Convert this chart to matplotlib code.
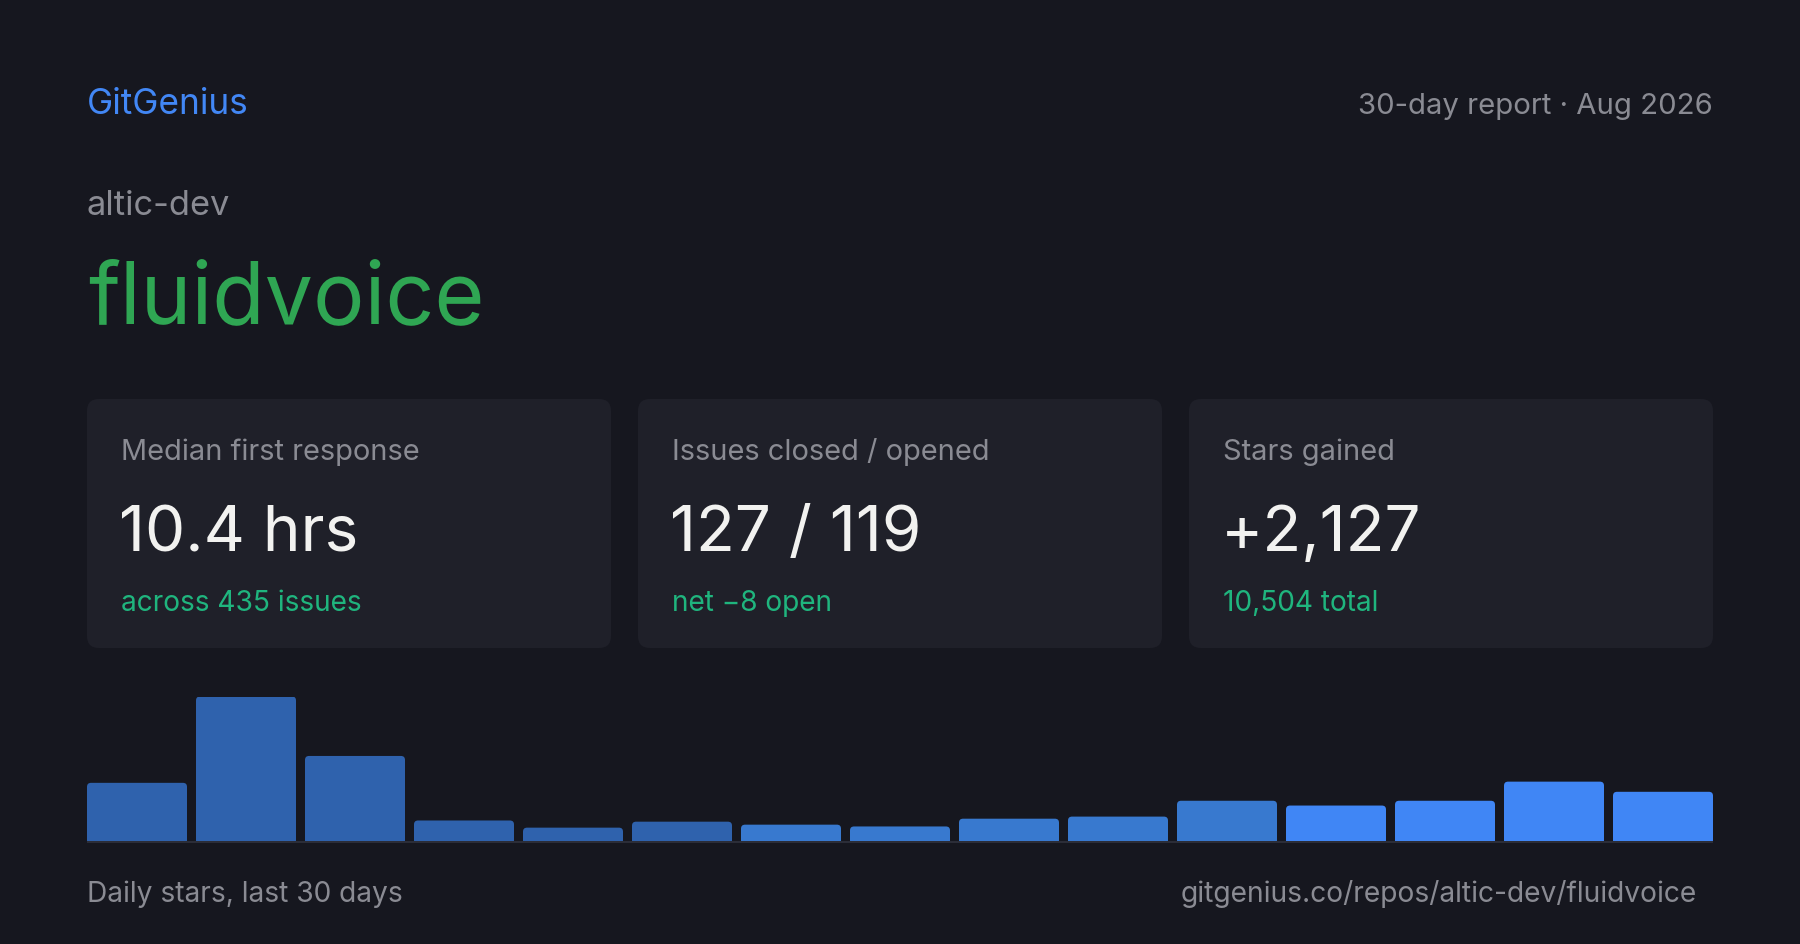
import matplotlib.pyplot as plt
from matplotlib.patches import FancyBboxPatch, Rectangle

plt.rcParams['font.family'] = ['Inter', 'DejaVu Sans']

# --- datos ---
brand = "GitGenius"
report = "30-day report \u00b7 Aug 2026"
owner = "altic-dev"
repo = "fluidvoice"
card_labels = ["Median first response", "Issues closed / opened", "Stars gained"]
card_values = ["10.4 hrs", "127 / 119", "+2,127"]
card_notes = ["across 435 issues", "net \u22128 open", "10,504 total"]
daily_stars = [193, 482, 283, 67, 43, 63, 53, 47, 73, 80, 133, 117, 133, 197, 163]
bar_colors = ["#2f62ad"] * 6 + ["#3879cf"] * 5 + ["#4086f5"] * 4
footer_left = "Daily stars, last 30 days"
footer_right = "gitgenius.co/repos/altic-dev/fluidvoice"

BG = "#16171f"
CARD = "#1f2029"
GREY = "#8a8b93"
WHITE = "#f2f2f0"
TEAL = "#1fb57e"

W, H = 1800, 945
fig = plt.figure(figsize=(W / 100, H / 100), dpi=100, facecolor=BG)

# capa de fondo en pixeles
bg = fig.add_axes([0, 0, 1, 1])
bg.set_xlim(0, W)
bg.set_ylim(H, 0)
bg.axis("off")

bg.text(87, 114, brand, color="#4287f5", fontsize=25.3, va="baseline", ha="left")
bg.text(1713, 114, report, color=GREY, fontsize=21.1, va="baseline", ha="right")
bg.text(87, 215, owner, color=GREY, fontsize=24.8, va="baseline", ha="left")
bg.text(88, 323, repo, color="#2fa653", fontsize=61.8, va="baseline", ha="left")

# tarjetas
card_w, gap = 524, 27
for i, (lab, val, note) in enumerate(zip(card_labels, card_values, card_notes)):
    x0 = 87 + i * (card_w + gap)
    bg.add_patch(FancyBboxPatch((x0, 400), card_w, 249,
                                boxstyle="round,pad=0,rounding_size=12",
                                fc=CARD, ec="none"))
    bg.text(x0 + 34, 460, lab, color=GREY, fontsize=20.9, va="baseline")
    bg.text(x0 + 32, 551, val, color=WHITE, fontsize=46, va="baseline")
    bg.text(x0 + 34, 611, note, color=TEAL, fontsize=20.2, va="baseline")

# linea base del grafico
bg.add_patch(Rectangle((87, 841.5), 1626, 2.2, fc="#2b2d38", ec="none"))

bg.text(87, 902, footer_left, color=GREY, fontsize=20.3, va="baseline", ha="left")
bg.text(1697, 902, footer_right, color=GREY, fontsize=20.3, va="baseline", ha="right")

# barras
ax_h_px = 144
ax = fig.add_axes([87 / W, 1 - 841.5 / H, 1626 / W, ax_h_px / H])
ax.set_facecolor("none")
bw = 100 / 109
x = list(range(len(daily_stars)))
bars = ax.bar(x, daily_stars, width=bw, color=bar_colors, edgecolor="none")
ax.set_xlim(-bw / 2, len(daily_stars) - 1 + bw / 2)
ax.set_ylim(0, max(daily_stars))
ax.axis("off")

# esquinas superiores redondeadas
px_x = 1 / 109                           # unidades x por pixel
px_y = max(daily_stars) / ax_h_px        # unidades y por pixel
r = 4 * px_x
for b in bars:
    b.set_visible(False)
    ax.add_patch(FancyBboxPatch((b.get_x(), -4 * px_y), b.get_width(),
                                b.get_height() + 4 * px_y,
                                boxstyle=f"round,pad=0,rounding_size={r}",
                                mutation_aspect=px_y / px_x,
                                fc=b.get_facecolor(), ec="none", clip_on=True))

fig.savefig("out.png", dpi=100, facecolor=BG)
